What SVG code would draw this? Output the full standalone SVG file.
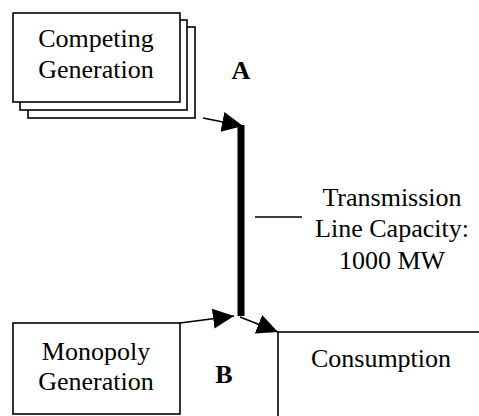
<svg xmlns="http://www.w3.org/2000/svg" width="479" height="416" viewBox="0 0 479 416">
  <style>
    .box { fill: #ffffff; stroke: #000000; stroke-width: 1.6; }
    .label { font-family: "Liberation Serif", "Times New Roman", serif; font-size: 26px; fill: #000000; text-anchor: middle; }
    .tag { font-family: "Liberation Serif", "Times New Roman", serif; font-size: 26px; font-weight: bold; fill: #000000; text-anchor: middle; }
    .flow { stroke: #000000; stroke-width: 1.6; fill: none; marker-end: url(#head); }
  </style>
  <defs>
    <marker id="head" markerUnits="userSpaceOnUse" markerWidth="22" markerHeight="20" refX="21" refY="10" orient="auto">
      <path d="M0,0 L21,10 L0,20 Z" fill="#000000"/>
    </marker>
  </defs>

  <rect width="479" height="416" fill="#ffffff"/>

  <!-- Competing generation: a stack of three sheets -->
  <g id="competing-generation">
    <rect class="box" x="28" y="27" width="167" height="91"/>
    <rect class="box" x="20" y="20" width="167" height="90"/>
    <rect class="box" x="13" y="13" width="167" height="89"/>
    <text class="label" x="96" y="47">Competing</text>
    <text class="label" x="96" y="78">Generation</text>
  </g>

  <g id="monopoly-generation">
    <rect class="box" x="13" y="323" width="167" height="91"/>
    <text class="label" x="96" y="360">Monopoly</text>
    <text class="label" x="96" y="390">Generation</text>
  </g>

  <g id="consumption">
    <rect class="box" x="278" y="332" width="210" height="100"/>
    <text class="label" x="381" y="367">Consumption</text>
  </g>

  <g id="node-a">
    <text class="tag" x="241" y="79">A</text>
  </g>

  <g id="node-b">
    <text class="tag" x="224" y="383">B</text>
  </g>

  <g id="transmission-note">
    <text class="label" x="392" y="206">Transmission</text>
    <text class="label" x="392" y="237">Line Capacity:</text>
    <text class="label" x="392" y="269">1000 MW</text>
  </g>

  <g id="connectors">
    <!-- transmission line between A and B -->
    <line x1="241" y1="125" x2="241" y2="316" stroke="#000000" stroke-width="7"/>
    <!-- pointer from the note to the line -->
    <line x1="255" y1="217" x2="302" y2="217" stroke="#000000" stroke-width="1.6"/>
    <line class="flow" x1="203" y1="118" x2="243" y2="126"/>
    <line class="flow" x1="180" y1="323" x2="234" y2="316"/>
    <line class="flow" x1="240" y1="317" x2="278" y2="332"/>
  </g>
</svg>
